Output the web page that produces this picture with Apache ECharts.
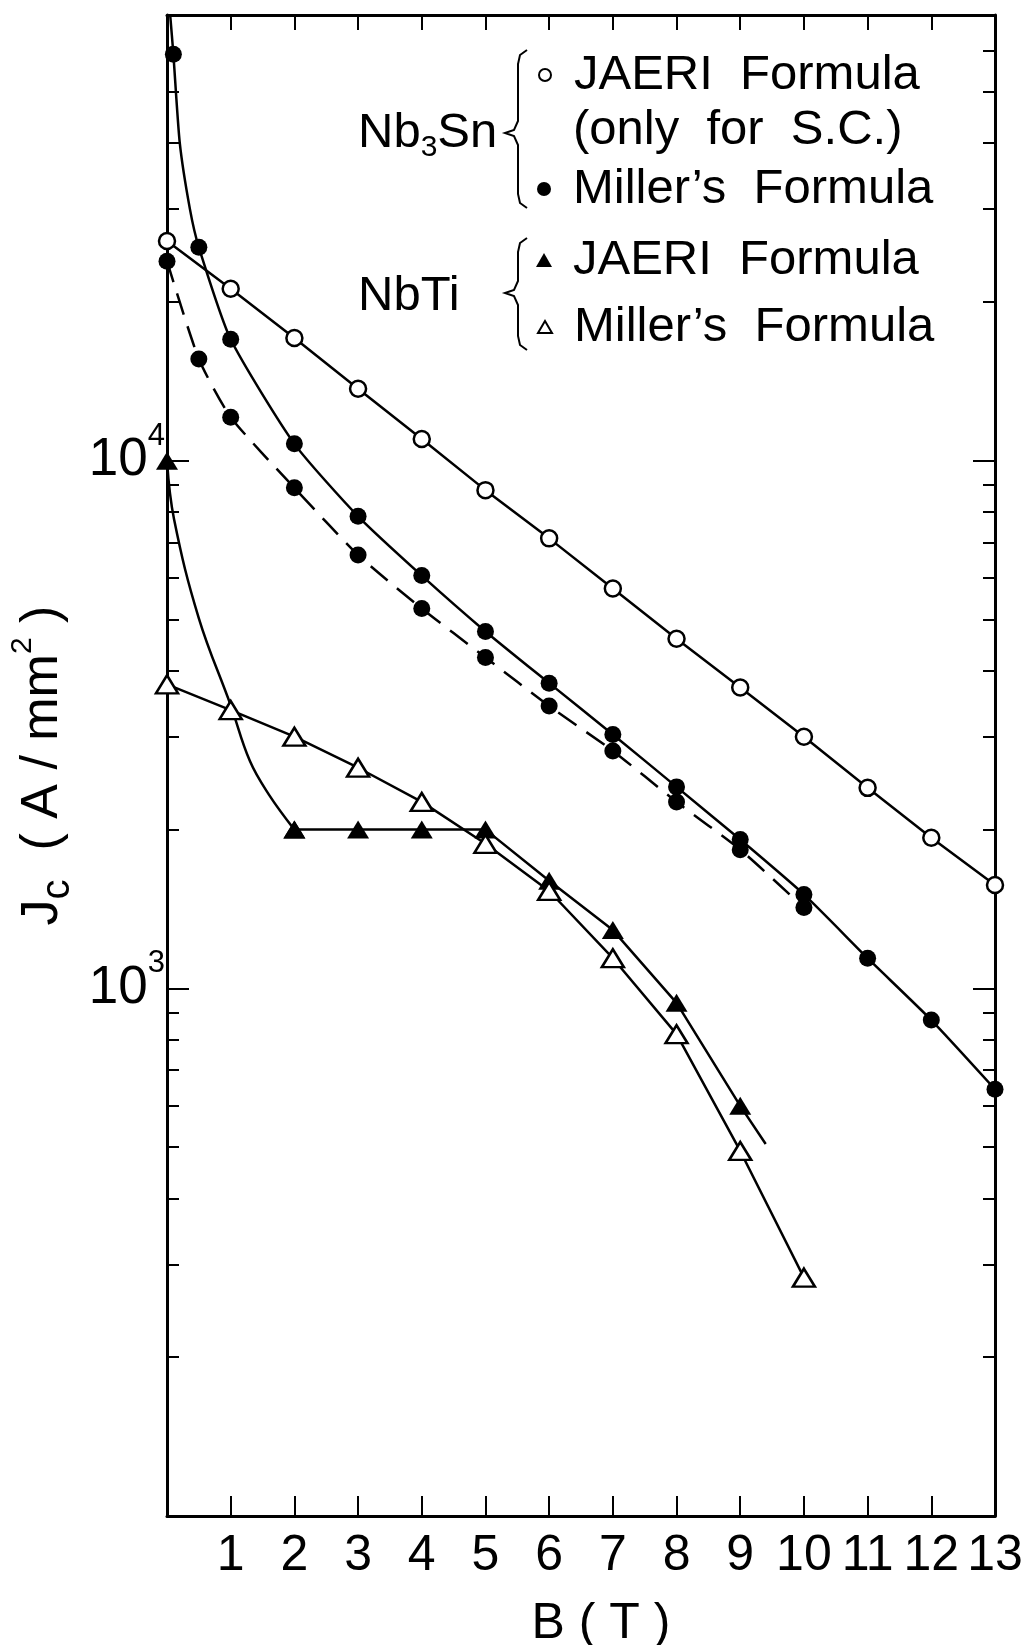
<!DOCTYPE html>
<html>
<head>
<meta charset="utf-8">
<title>Jc vs B</title>
<script src="https://cdn.jsdelivr.net/npm/echarts@6.0.0/dist/echarts.min.js"></script>
<style>
  html, body { margin: 0; padding: 0; background: #fff; }
  #chart { width: 1027px; height: 1645px; }
</style>
</head>
<body>
<div id="chart"></div>
<script>
// values: B in T, Jc in A/mm2
var nb3snJaeriB = [0, 1, 2, 3, 4, 5, 6, 7, 8, 9, 10, 11, 12, 13];
var nb3snJaeriJc = [26100, 21200, 17100, 13700, 11000, 8800, 7130, 5730, 4600, 3720, 3000, 2400, 1930, 1570];

var nb3snMillerB = [0.1, 0.5, 1, 2, 3, 4, 5, 6, 7, 8, 9, 10, 11, 12, 13];
var nb3snMillerJc = [59000, 25400, 17000, 10770, 7850, 6060, 4750, 3790, 3030, 2410, 1915, 1507, 1141, 871, 644];
// points on the drawn curve that carry no marker
var nb3snMillerTraceB = [0.05, 0.2, 0.36];
var nb3snMillerTraceJc = [70000, 40100, 30000];

var nb3snMillerDashB = [0, 0.5, 1, 2, 3, 4, 5, 6, 7, 8, 9, 10];
var nb3snMillerDashJc = [23900, 15600, 12100, 8890, 6630, 5250, 4240, 3430, 2820, 2257, 1832, 1423];

var nbtiJaeriB = [0, 2, 3, 4, 5, 6, 7, 8, 9];
var nbtiJaeriJc = [10000, 2000, 2000, 2000, 2000, 1600, 1290, 939, 599];
var nbtiJaeriTraceB = [0.11, 0.5, 1.0, 1.3, 1.6, 9.4];
var nbtiJaeriTraceJc = [7760, 5030, 3440, 2700, 2330, 507];

var nbtiMillerB = [0, 1, 2, 3, 4, 5, 6, 7, 8, 9, 10];
var nbtiMillerJc = [3770, 3370, 3000, 2620, 2257, 1880, 1530, 1141, 819, 492, 283];

var xMin = 0, xMax = 13;
var yMin = 100, yMax = 70000;
var yMajorTicks = [1000, 10000];
var yMinorTicks = [200, 300, 400, 500, 600, 700, 800, 900,
  2000, 3000, 4000, 5000, 6000, 7000, 8000, 9000,
  20000, 30000, 40000, 50000, 60000, 70000];

var FONT = "'Liberation Sans', Arial, sans-serif";

function lg(v) { return Math.log10(v); }

function toData(bs, jcs, traceB, traceJc) {
  var pts = [];
  for (var i = 0; i < bs.length; i++) {
    pts.push({ value: [bs[i], lg(jcs[i])] });
  }
  if (traceB) {
    for (var j = 0; j < traceB.length; j++) {
      pts.push({ value: [traceB[j], lg(traceJc[j])], symbol: 'none' });
    }
  }
  pts.sort(function (a, b) { return a.value[0] - b.value[0]; });
  return pts;
}

function yAxisOf(position, ticks, len, withLine) {
  return {
    type: 'value', position: position, min: lg(yMin), max: lg(yMax),
    axisLine: { show: withLine, lineStyle: { color: '#000', width: 3 } },
    axisTick: { show: true, inside: true, length: len, customValues: ticks.map(lg),
      lineStyle: { color: '#000', width: 2 } },
    axisLabel: { show: false },
    splitLine: { show: false }
  };
}

function brace(xs, top, mid, bot) {
  return [[xs + 9, top], [xs + 2, top + 5], [xs, top + 14], [xs, mid - 12], [xs - 4, mid - 3],
    [xs - 13, mid], [xs - 4, mid + 3], [xs, mid + 12], [xs, bot - 14], [xs + 2, bot - 5], [xs + 9, bot]];
}

var lineBase = { color: '#000', width: 2.5 };

// one legend per entry so each row can sit where the figure has it
function legendAt(top, name, icon, w, h, style, label) {
  return {
    left: 544 - w / 2, top: top, orient: 'vertical', padding: 0, itemGap: 0,
    itemWidth: w, itemHeight: h, selectedMode: false, formatter: label,
    textStyle: { fontFamily: FONT, fontSize: 49, color: '#000', lineHeight: 56,
      padding: [0, 0, 0, 24 - w / 2] },
    data: [{ name: name, icon: icon, itemStyle: style }]
  };
}

var chart = echarts.init(document.getElementById('chart'));

var yLabelAxis = yAxisOf('left', yMajorTicks, 22, true);
yLabelAxis.axisLabel = {
  show: true, margin: 2, color: '#000', fontFamily: FONT,
  customValues: yMajorTicks.map(lg),
  formatter: function (v) { return '{b|10}{s|' + Math.round(v) + '}'; },
  rich: {
    b: { fontFamily: FONT, fontSize: 53, lineHeight: 80, color: '#000' },
    s: { fontFamily: FONT, fontSize: 31, lineHeight: 26, verticalAlign: 'top', color: '#000' }
  }
};
yLabelAxis.name = '{j|J}{c|c}  ( A / mm{s|2} )';
yLabelAxis.nameLocation = 'middle';
yLabelAxis.nameGap = 70;
yLabelAxis.nameTextStyle = {
  fontFamily: FONT, fontSize: 52, color: '#000', lineHeight: 70,
  rich: {
    j: { fontFamily: FONT, fontSize: 52, lineHeight: 70, color: '#000' },
    c: { fontFamily: FONT, fontSize: 40, lineHeight: 48, verticalAlign: 'bottom', color: '#000' },
    s: { fontFamily: FONT, fontSize: 30, lineHeight: 14, verticalAlign: 'top', color: '#000' }
  }
};

var nbtiJaeriAll = toData(nbtiJaeriB, nbtiJaeriJc, nbtiJaeriTraceB, nbtiJaeriTraceJc);

var option = {
  animation: false,
  backgroundColor: '#fff',
  grid: { left: 167, right: 32, top: 15, bottom: 129, containLabel: false, outerBoundsMode: 'none' },
  xAxis: [{
    type: 'value', position: 'bottom', min: xMin, max: xMax, interval: 1,
    axisLine: { show: true, onZero: false, lineStyle: { color: '#000', width: 3 } },
    axisTick: { inside: true, length: 20, lineStyle: { color: '#000', width: 2 } },
    axisLabel: {
      margin: 12, color: '#000', fontFamily: FONT, fontSize: 50, lineHeight: 56,
      formatter: function (v) { return v === 0 ? '' : String(v); }
    },
    splitLine: { show: false },
    name: 'B ( T )', nameLocation: 'middle', nameGap: 78,
    nameTextStyle: { fontFamily: FONT, fontSize: 50, color: '#000', lineHeight: 60, padding: [0, 0, 0, 40] }
  }, {
    type: 'value', position: 'top', min: xMin, max: xMax, interval: 1,
    axisLine: { show: true, onZero: false, lineStyle: { color: '#000', width: 3 } },
    axisTick: { inside: true, length: 15, lineStyle: { color: '#000', width: 2 } },
    axisLabel: { show: false },
    splitLine: { show: false }
  }],
  yAxis: [
    yLabelAxis,
    yAxisOf('left', yMinorTicks, 12, false),
    yAxisOf('right', yMajorTicks, 22, true),
    yAxisOf('right', yMinorTicks, 12, false)
  ],
  legend: [
    legendAt(47, 'Nb3Sn JAERI', 'circle', 12, 12, { color: '#fff', borderColor: '#000', borderWidth: 2 }, 'JAERI  Formula'),
    legendAt(161, 'Nb3Sn Miller', 'circle', 14, 14, { color: '#000', borderWidth: 0 }, "Miller\u2019s  Formula"),
    legendAt(232, 'NbTi JAERI', 'triangle', 16, 14, { color: '#000', borderWidth: 0 }, 'JAERI  Formula'),
    legendAt(299, 'NbTi Miller', 'triangle', 14, 12, { color: '#fff', borderColor: '#000', borderWidth: 2 }, "Miller\u2019s  Formula")
  ],
  graphic: [
    { type: 'text', left: 573, top: 106, style: { text: '(only  for  S.C.)', fontFamily: FONT, fontSize: 49, fill: '#000' } },
    { type: 'text', x: 358, y: 133, style: {
        text: '{a|Nb}{s|3}{a|Sn}', fill: '#000', verticalAlign: 'middle',
        rich: {
          a: { fontFamily: FONT, fontSize: 49, lineHeight: 60, fill: '#000' },
          s: { fontFamily: FONT, fontSize: 30, lineHeight: 24, verticalAlign: 'bottom', fill: '#000' }
        } } },
    { type: 'text', x: 358, y: 296, style: {
        text: 'NbTi', fontFamily: FONT, fontSize: 49, fill: '#000', verticalAlign: 'middle' } },
    { type: 'polyline', shape: { points: brace(518, 50, 133, 208) }, style: { stroke: '#000', lineWidth: 2, fill: null } },
    { type: 'polyline', shape: { points: brace(518, 238, 293, 350) }, style: { stroke: '#000', lineWidth: 2, fill: null } }
  ],
  series: [{
    name: 'Nb3Sn JAERI', type: 'line', clip: false, z: 3,
    data: toData(nb3snJaeriB, nb3snJaeriJc),
    symbol: 'circle', symbolSize: 16,
    itemStyle: { color: '#fff', borderColor: '#000', borderWidth: 2.5 },
    lineStyle: lineBase
  }, {
    name: 'Nb3Sn Miller', type: 'line', clip: false, z: 3,
    data: toData(nb3snMillerB, nb3snMillerJc, nb3snMillerTraceB, nb3snMillerTraceJc),
    symbol: 'circle', symbolSize: 17, smooth: 0.2,
    itemStyle: { color: '#000' },
    lineStyle: lineBase
  }, {
    name: 'Nb3Sn Miller dashed', type: 'line', clip: false, z: 3,
    data: toData(nb3snMillerDashB, nb3snMillerDashJc),
    symbol: 'circle', symbolSize: 17, smooth: 0.2,
    itemStyle: { color: '#000' },
    lineStyle: { color: '#000', width: 2.5, type: [22, 12] }
  }, {
    // steep part up to the plateau, drawn as a smooth curve
    name: 'NbTi JAERI', type: 'line', clip: false, z: 3,
    data: nbtiJaeriAll.filter(function (p) { return p.value[0] <= 2; }),
    symbol: 'triangle', symbolSize: [22, 18], smooth: 0.4,
    itemStyle: { color: '#000' },
    lineStyle: lineBase
  }, {
    name: 'NbTi JAERI', type: 'line', clip: false, z: 3,
    data: nbtiJaeriAll.filter(function (p) { return p.value[0] >= 2; }),
    symbol: 'triangle', symbolSize: [22, 18],
    itemStyle: { color: '#000' },
    lineStyle: lineBase
  }, {
    name: 'NbTi Miller', type: 'line', clip: false, z: 4,
    data: toData(nbtiMillerB, nbtiMillerJc),
    symbol: 'triangle', symbolSize: [22, 18],
    itemStyle: { color: '#fff', borderColor: '#000', borderWidth: 2.5 },
    lineStyle: lineBase
  }]
};

chart.setOption(option);
</script>
</body>
</html>
